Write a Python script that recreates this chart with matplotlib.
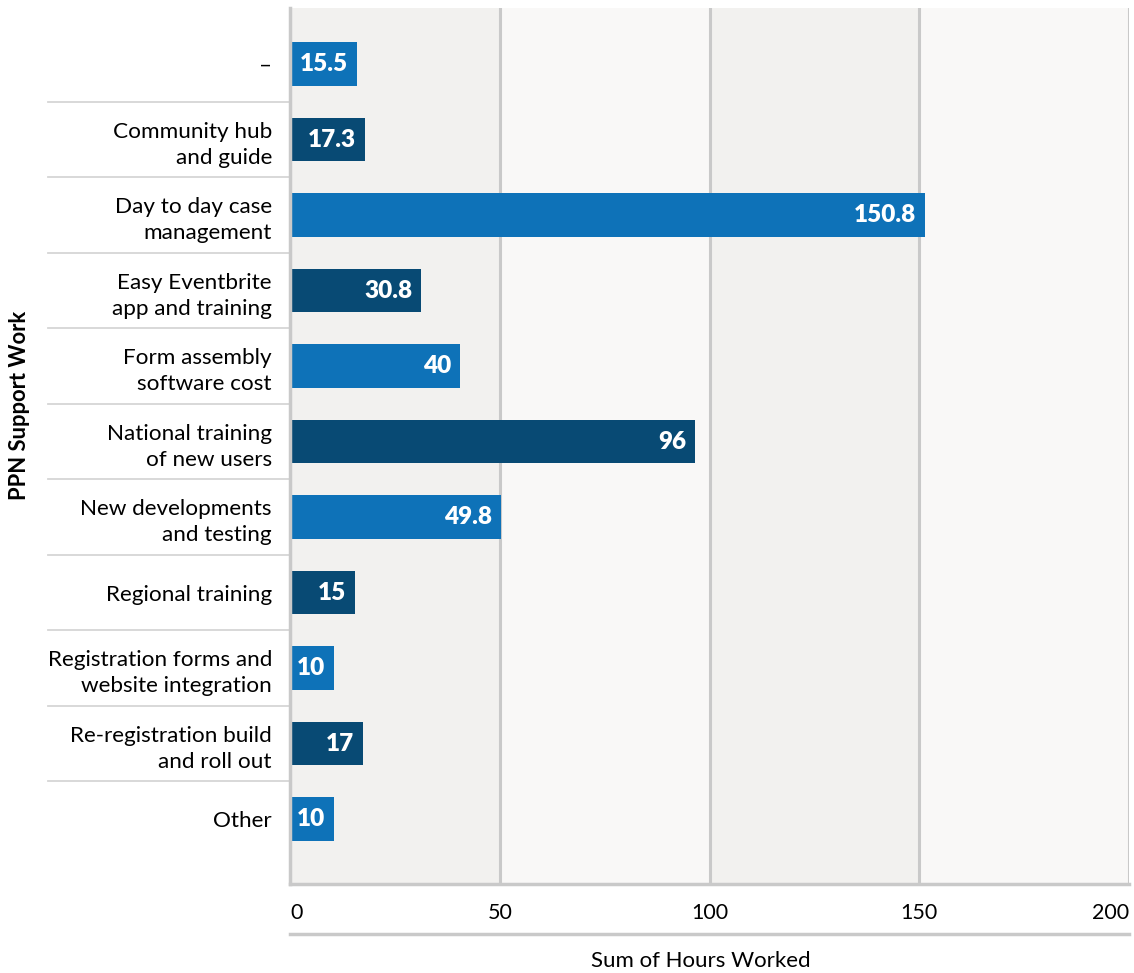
import matplotlib.pyplot as plt
import matplotlib.transforms as mtransforms

plt.rcParams['font.family'] = ['Lato', 'DejaVu Sans']

categories = ['–', 'Community hub\nand guide', 'Day to day case\nmanagement',
              'Easy Eventbrite\napp and training', 'Form assembly\nsoftware cost',
              'National training\nof new users', 'New developments\nand testing',
              'Regional training', 'Registration forms and\nwebsite integration',
              'Re-registration build\nand roll out', 'Other']
hours = [15.5, 17.3, 150.8, 30.8, 40, 96, 49.8, 15, 10, 17, 10]
labels = ['15.5', '17.3', '150.8', '30.8', '40', '96', '49.8', '15', '10', '17', '10']
xticks = [0, 50, 100, 150, 200]

light = '#0e72b8'
dark = '#084a74'
grid_c = '#c9c9c9'

fig = plt.figure(figsize=(11.34, 9.73), dpi=100)
ax = fig.add_axes([290/1134, 1-884/973, 839/1134, 876/973])

# background bands
for i in range(4):
    ax.axvspan(i*50, (i+1)*50, color='#f2f1ef' if i % 2 == 0 else '#f9f8f7', zorder=0, lw=0)
for x in xticks[1:]:
    ax.axvline(x, color=grid_c, lw=2.2, zorder=1)

ypos = list(range(len(categories)))
colors = [light if i % 2 == 0 else dark for i in ypos]
ax.barh(ypos, hours, height=0.58, color=colors, left=0.5, zorder=2)

for y, v, t in zip(ypos, hours, labels):
    ax.annotate(t, (v + 0.5, y), xytext=(-9, 0), textcoords='offset pixels',
                ha='right', va='center', color='white', fontsize=17.5,
                fontweight='heavy', zorder=3)

ax.set_xlim(0, 200)
ax.set_ylim(10.86, -0.742)
ax.set_yticks(ypos)
ax.set_yticklabels(categories, fontsize=16.2, linespacing=1.4)
ax.tick_params(axis='y', length=0, pad=13)
ax.set_xticks(xticks)
ax.set_xticklabels([str(x) for x in xticks], fontsize=15.5)
ax.tick_params(axis='x', length=0, pad=14)
xl = ax.get_xticklabels()
xl[0].set_ha('left')
xl[-1].set_ha('right')

for s in ['top', 'right']:
    ax.spines[s].set_visible(False)
for s in ['left', 'bottom']:
    ax.spines[s].set_color(grid_c)
    ax.spines[s].set_linewidth(2.5)

# separators between categories on the left
trans = mtransforms.blended_transform_factory(ax.transAxes, ax.transData)
for i in range(len(categories) - 1):
    ax.plot([-0.288, 0], [i + 0.5, i + 0.5], transform=trans, color='#d6d6d6',
            lw=1.3, clip_on=False, zorder=1)

# second rule under tick labels
ax.plot([0, 1], [-0.057, -0.057], transform=ax.transAxes, color=grid_c,
        lw=2.5, clip_on=False)

ax.set_xlabel('Sum of Hours Worked', fontsize=16)
ax.xaxis.set_label_coords(0.49, -0.077)
fig.text(20/1134, 1-405/973, 'PPN Support Work', rotation=90, fontsize=15.8,
         fontweight='bold', ha='center', va='center')

fig.savefig('out.png', dpi=100)
